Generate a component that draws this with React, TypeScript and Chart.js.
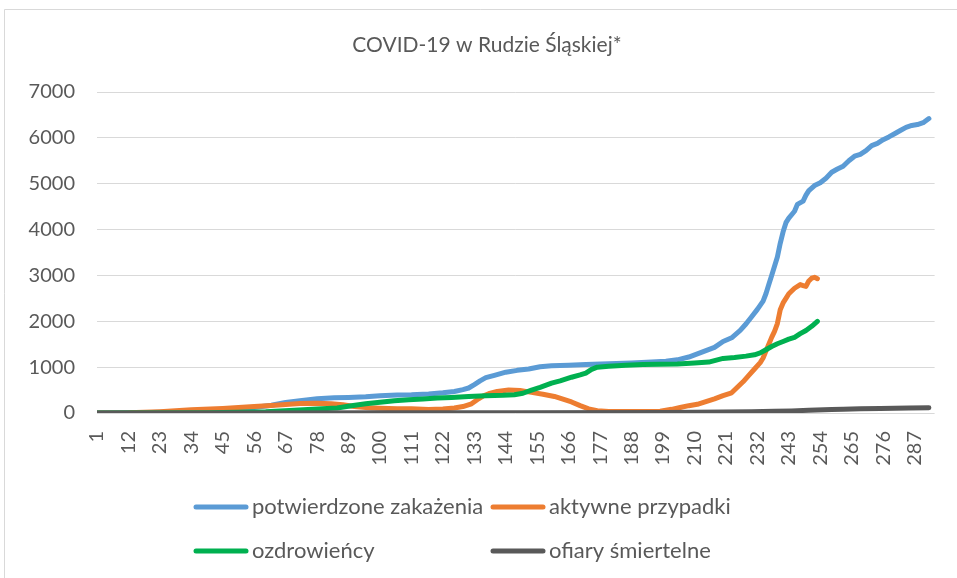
import React, { useEffect, useRef } from 'react';
import { Chart, registerables } from 'chart.js';

Chart.register(...registerables);

const FONT = 'Lato, "Open Sans", sans-serif';
const TEXT_COLOR = '#595959';

const chartTitle = 'COVID-19 w Rudzie Śląskiej*';
const seriesLabels = ['potwierdzone zakażenia', 'aktywne przypadki', 'ozdrowieńcy', 'ofiary śmiertelne'];
const seriesColors = ['#5B9BD5', '#ED7D31', '#00B050', '#595959'];

const xTicks = [1, 12, 23, 34, 45, 56, 67, 78, 89, 100, 111, 122, 133, 144, 155, 166, 177, 188, 199, 210, 221, 232, 243, 254, 265, 276, 287];
const yTicks = [0, 1000, 2000, 3000, 4000, 5000, 6000, 7000];

// [day, value]
const confirmed: [number, number][] = [
  [1, 0], [10, 3], [20, 10], [30, 25], [40, 45], [50, 80], [56, 120], [62, 170], [67, 230], [72, 270],
  [78, 310], [84, 330], [89, 340], [95, 355], [100, 375], [106, 395], [111, 400], [117, 415], [122, 440],
  [126, 470], [129, 510], [131, 545], [133, 620], [135, 700], [137, 770], [140, 820], [144, 890], [148, 930],
  [152, 960], [156, 1010], [160, 1030], [166, 1040], [172, 1055], [180, 1075], [188, 1090], [195, 1110],
  [200, 1130], [204, 1160], [208, 1220], [211, 1290], [214, 1360], [217, 1430], [220, 1560], [223, 1640],
  [226, 1800], [228, 1940], [230, 2100], [232, 2260], [234, 2440], [235, 2600], [236, 2800], [237, 3000],
  [238, 3200], [239, 3400], [240, 3700], [241, 3950], [242, 4150], [243, 4250], [245, 4400], [246, 4550],
  [248, 4620], [249, 4750], [250, 4850], [252, 4960], [254, 5020], [256, 5120], [258, 5250], [260, 5320],
  [262, 5380], [264, 5500], [266, 5600], [268, 5640], [270, 5720], [272, 5830], [274, 5880], [276, 5960],
  [278, 6020], [280, 6090], [282, 6160], [284, 6230], [286, 6270], [288, 6290], [290, 6330], [292, 6420],
];

const active: [number, number][] = [
  [1, 0], [12, 5], [23, 30], [34, 70], [45, 100], [56, 140], [62, 165], [67, 185], [72, 205], [78, 215],
  [83, 200], [87, 180], [91, 140], [96, 115], [100, 105], [106, 95], [111, 90], [117, 75], [122, 85],
  [126, 110], [129, 140], [132, 200], [134, 290], [136, 370], [138, 420], [141, 470], [145, 500], [149, 490],
  [153, 450], [157, 410], [161, 360], [164, 300], [167, 240], [170, 160], [173, 90], [176, 50], [180, 35],
  [190, 30], [198, 40], [202, 80], [205, 120], [208, 160], [211, 190], [214, 250], [217, 310], [220, 380],
  [223, 440], [225, 560], [227, 680], [229, 820], [231, 960], [233, 1100], [234, 1200], [235, 1350],
  [236, 1500], [237, 1650], [238, 1780], [239, 1950], [240, 2250], [241, 2400], [242, 2500], [243, 2600],
  [245, 2720], [247, 2800], [248, 2780], [249, 2760], [250, 2880], [251, 2940], [252, 2960], [253, 2930],
];

const recovered: [number, number][] = [
  [1, 0], [40, 5], [50, 15], [60, 30], [70, 60], [78, 85], [85, 110], [90, 160], [95, 200], [100, 235],
  [105, 265], [110, 290], [115, 305], [120, 325], [125, 340], [131, 360], [137, 375], [143, 385], [147, 400],
  [150, 430], [153, 500], [156, 560], [160, 650], [163, 700], [167, 780], [170, 830], [172, 870], [174, 950],
  [176, 1000], [180, 1020], [186, 1040], [192, 1055], [198, 1065], [204, 1070], [210, 1090], [215, 1110],
  [218, 1160], [220, 1190], [224, 1210], [228, 1240], [231, 1270], [233, 1310], [235, 1380], [237, 1450],
  [239, 1510], [241, 1560], [243, 1610], [245, 1650], [247, 1730], [249, 1800], [251, 1890], [253, 2000],
];

const deaths: [number, number][] = [
  [1, 0], [60, 2], [100, 5], [150, 8], [200, 12], [210, 15], [220, 20], [230, 28], [238, 38], [244, 45],
  [250, 60], [258, 75], [262, 80], [268, 90], [275, 100], [285, 108], [292, 115],
];

const seriesData = [confirmed, active, recovered, deaths];

export default function App() {
  const ref = useRef<HTMLCanvasElement>(null);

  useEffect(() => {
    if (!ref.current) return;

    const framePlugin = {
      id: 'frame',
      beforeDraw(chart: any) {
        const ctx = chart.ctx;
        ctx.save();
        ctx.fillStyle = '#ffffff';
        ctx.fillRect(0, 0, chart.width, chart.height);
        ctx.strokeStyle = '#d9d9d9';
        ctx.lineWidth = 1;
        ctx.beginPath();
        ctx.moveTo(4.5, chart.height);
        ctx.lineTo(4.5, 9.5);
        ctx.lineTo(chart.width, 9.5);
        ctx.stroke();
        ctx.restore();
      },
      afterDraw(chart: any) {
        const ctx = chart.ctx;
        ctx.save();
        ctx.fillStyle = TEXT_COLOR;
        ctx.font = `21px ${FONT}`;
        ctx.textAlign = 'center';
        ctx.textBaseline = 'middle';
        ctx.fillText(chartTitle, 487, 45);
        ctx.restore();
      },
    };

    const gridLegendPlugin = {
      id: 'gridLegend',
      afterDraw(chart: any) {
        const ctx = chart.ctx;
        ctx.save();
        const colX = [194, 491];
        const rowY = [507, 551];
        chart.data.datasets.forEach((ds: any, i: number) => {
          const lx = colX[i % 2];
          const ly = rowY[Math.floor(i / 2)];
          ctx.strokeStyle = ds.borderColor;
          ctx.lineWidth = 5;
          ctx.lineCap = 'round';
          ctx.beginPath();
          ctx.moveTo(lx + 2, ly);
          ctx.lineTo(lx + 52, ly);
          ctx.stroke();
          ctx.fillStyle = TEXT_COLOR;
          ctx.font = `22px ${FONT}`;
          ctx.textBaseline = 'middle';
          ctx.textAlign = 'left';
          ctx.fillText(ds.label, lx + 58, ly);
        });
        ctx.restore();
      },
    };

    const chart = new Chart(ref.current, {
      type: 'line',
      data: {
        datasets: seriesData.map((arr, i) => ({
          label: seriesLabels[i],
          data: arr.map(([x, y]) => ({ x, y })),
          borderColor: seriesColors[i],
          backgroundColor: seriesColors[i],
          borderWidth: 5,
          borderCapStyle: 'round',
          borderJoinStyle: 'round',
          pointRadius: 0,
          pointHoverRadius: 0,
          tension: 0,
          fill: false,
          order: 4 - i,
        })) as any,
      },
      options: {
        responsive: false,
        animation: false,
        layout: { padding: { left: 0, right: 17, top: 92, bottom: 0 } },
        plugins: {
          legend: { display: false },
          tooltip: { enabled: false },
          title: { display: false },
        },
        scales: {
          x: {
            type: 'linear',
            min: 1,
            max: 294,
            grid: { display: false, drawTicks: false },
            border: { display: false },
            afterBuildTicks: (s: any) => {
              s.ticks = xTicks.map((v) => ({ value: v }));
            },
            afterFit: (s: any) => {
              s.height = 165;
            },
            ticks: {
              autoSkip: false,
              minRotation: 90,
              maxRotation: 90,
              padding: 18,
              color: TEXT_COLOR,
              font: { family: FONT, size: 20 },
              callback: (v: any) => String(v),
            },
          },
          y: {
            min: 0,
            max: 7000,
            grid: { color: '#d9d9d9', lineWidth: 1, drawTicks: false },
            border: { display: false },
            afterBuildTicks: (s: any) => {
              s.ticks = yTicks.map((v) => ({ value: v }));
            },
            afterFit: (s: any) => {
              s.width = 97;
            },
            ticks: {
              padding: 22,
              color: TEXT_COLOR,
              font: { family: FONT, size: 20 },
              callback: (v: any) => String(v),
            },
          },
        },
      } as any,
      plugins: [framePlugin, gridLegendPlugin],
    });

    return () => chart.destroy();
  }, []);

  return (
    <div style={{ position: 'fixed', left: 0, top: 0, width: 957, height: 578, background: '#fff' }}>
      <canvas ref={ref} width={957} height={578} style={{ display: 'block', width: 957, height: 578 }} />
    </div>
  );
}
